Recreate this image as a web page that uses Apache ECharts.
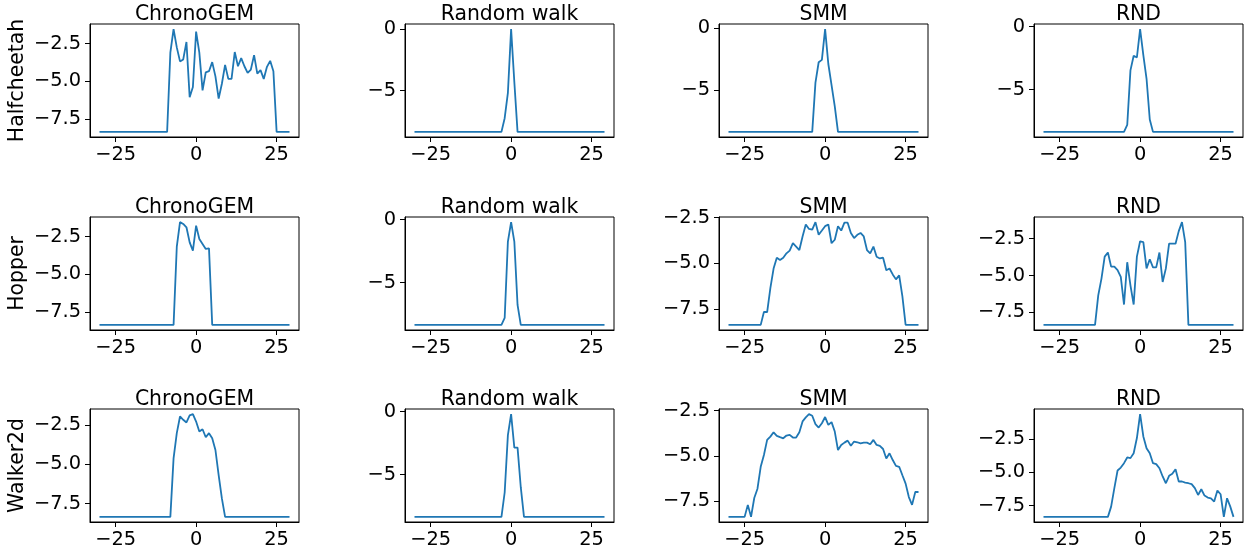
<!DOCTYPE html>
<html><head><meta charset="utf-8">
<script src="https://cdn.jsdelivr.net/npm/echarts@6/dist/echarts.min.js"></script>
<style>html,body{margin:0;padding:0;background:#fff}#c{width:1248px;height:550px}</style>
</head><body><div id="c"></div>
<script>
// ---------------- data ----------------
const xValues = [-30,-29,-28,-27,-26,-25,-24,-23,-22,-21,-20,-19,-18,-17,-16,-15,-14,-13,-12,-11,-10,-9,-8,-7,-6,-5,-4,-3,-2,-1,0,1,2,3,4,5,6,7,8,9,10,11,12,13,14,15,16,17,18,19,20,21,22,23,24,25,26,27,28,29];
const envNames = ['Halfcheetah', 'Hopper', 'Walker2d'];
const methodNames = ['ChronoGEM', 'Random walk', 'SMM', 'RND'];
const xTicks = [-25, 0, 25];

const halfcheetahChronoGEM = [-8.35,-8.35,-8.35,-8.35,-8.35,-8.35,-8.35,-8.35,-8.35,-8.35,-8.35,-8.35,-8.35,-8.35,-8.35,-8.35,-8.35,-8.35,-8.35,-8.35,-8.35,-8.35,
  -3.1,-1.54,-2.75,-3.68,-3.55,-2.39,-6.05,-5.38,-1.70,-3.10,-5.60,-4.40,-4.33,-3.73,-4.67,-6.14,-5.16,-3.91,-4.84,-4.84,-3.06,-4.0,-3.46,-4.0,-4.44,-4.22,-3.26,-4.49,-4.26,-4.84,-4.04,-3.64,-4.33,
  -8.35,-8.35,-8.35,-8.35,-8.35];
const halfcheetahRandomWalk = [-8.35,-8.35,-8.35,-8.35,-8.35,-8.35,-8.35,-8.35,-8.35,-8.35,-8.35,-8.35,-8.35,-8.35,-8.35,-8.35,-8.35,-8.35,-8.35,-8.35,-8.35,-8.35,-8.35,-8.35,-8.35,-8.35,-8.35,-8.35,
  -7.24,-5.19,0,-4.3,
  -8.35,-8.35,-8.35,-8.35,-8.35,-8.35,-8.35,-8.35,-8.35,-8.35,-8.35,-8.35,-8.35,-8.35,-8.35,-8.35,-8.35,-8.35,-8.35,-8.35,-8.35,-8.35,-8.35,-8.35,-8.35,-8.35,-8.35,-8.35];
const halfcheetahSMM = [-8.35,-8.35,-8.35,-8.35,-8.35,-8.35,-8.35,-8.35,-8.35,-8.35,-8.35,-8.35,-8.35,-8.35,-8.35,-8.35,-8.35,-8.35,-8.35,-8.35,-8.35,-8.35,-8.35,-8.35,-8.35,-8.35,-8.35,
  -4.4,-2.76,-2.57,-0.1,-2.9,-4.6,-6.3,
  -8.35,-8.35,-8.35,-8.35,-8.35,-8.35,-8.35,-8.35,-8.35,-8.35,-8.35,-8.35,-8.35,-8.35,-8.35,-8.35,-8.35,-8.35,-8.35,-8.35,-8.35,-8.35,-8.35,-8.35,-8.35,-8.35];
const halfcheetahRND = [-8.35,-8.35,-8.35,-8.35,-8.35,-8.35,-8.35,-8.35,-8.35,-8.35,-8.35,-8.35,-8.35,-8.35,-8.35,-8.35,-8.35,-8.35,-8.35,-8.35,-8.35,-8.35,-8.35,-8.35,-8.35,-8.35,
  -7.8,-3.47,-2.31,-2.45,-0.2,-2.26,-4.14,-7.37,
  -8.35,-8.35,-8.35,-8.35,-8.35,-8.35,-8.35,-8.35,-8.35,-8.35,-8.35,-8.35,-8.35,-8.35,-8.35,-8.35,-8.35,-8.35,-8.35,-8.35,-8.35,-8.35,-8.35,-8.35,-8.35,-8.35];

const hopperChronoGEM = [-8.35,-8.35,-8.35,-8.35,-8.35,-8.35,-8.35,-8.35,-8.35,-8.35,-8.35,-8.35,-8.35,-8.35,-8.35,-8.35,-8.35,-8.35,-8.35,-8.35,-8.35,-8.35,-8.35,-8.35,
  -3.17,-1.54,-1.66,-1.88,-2.88,-3.43,-1.77,-2.66,-2.99,-3.32,-3.28,
  -8.35,-8.35,-8.35,-8.35,-8.35,-8.35,-8.35,-8.35,-8.35,-8.35,-8.35,-8.35,-8.35,-8.35,-8.35,-8.35,-8.35,-8.35,-8.35,-8.35,-8.35,-8.35,-8.35,-8.35,-8.35];
const hopperRandomWalk = [-8.35,-8.35,-8.35,-8.35,-8.35,-8.35,-8.35,-8.35,-8.35,-8.35,-8.35,-8.35,-8.35,-8.35,-8.35,-8.35,-8.35,-8.35,-8.35,-8.35,-8.35,-8.35,-8.35,-8.35,-8.35,-8.35,-8.35,-8.35,
  -7.8,-1.74,-0.2,-1.74,-6.77,
  -8.35,-8.35,-8.35,-8.35,-8.35,-8.35,-8.35,-8.35,-8.35,-8.35,-8.35,-8.35,-8.35,-8.35,-8.35,-8.35,-8.35,-8.35,-8.35,-8.35,-8.35,-8.35,-8.35,-8.35,-8.35,-8.35,-8.35];
const hopperSMM = [-8.35,-8.35,-8.35,-8.35,-8.35,-8.35,-8.35,-8.35,-8.35,-8.35,-8.35,
  -7.65,-7.65,-6.35,-5.28,-4.69,-4.81,-4.69,-4.45,-4.3,-3.9,
  -4.08,-4.27,-3.53,-2.88,-3.12,-3.16,-2.75,-3.44,-3.21,-2.97,
  -2.88,-3.9,-3.71,-2.97,-3.21,-2.78,-2.78,-3.34,-3.62,-3.44,
  -3.34,-3.53,-4.27,-4.45,-4.08,-4.64,-4.73,-4.69,-5.37,-5.28,
  -5.6,-5.87,-5.65,-6.8,
  -8.35,-8.35,-8.35,-8.35,-8.35];
const hopperRND = [-8.35,-8.35,-8.35,-8.35,-8.35,-8.35,-8.35,-8.35,-8.35,-8.35,-8.35,-8.35,-8.35,-8.35,-8.35,-8.35,-8.35,
  -6.35,-5.21,-3.72,-3.44,-4.40,-4.40,-4.63,-5.09,-6.97,-4.10,-5.67,-6.97,-3.72,-2.68,-2.73,-4.52,-3.90,-4.45,-4.45,-3.44,-5.44,-4.52,-2.84,-2.84,-2.84,-1.99,-1.38,-2.73,
  -8.35,-8.35,-8.35,-8.35,-8.35,-8.35,-8.35,-8.35,-8.35,-8.35,-8.35,-8.35,-8.35,-8.35,-8.35];

const walker2dChronoGEM = [-8.35,-8.35,-8.35,-8.35,-8.35,-8.35,-8.35,-8.35,-8.35,-8.35,-8.35,-8.35,-8.35,-8.35,-8.35,-8.35,-8.35,-8.35,-8.35,-8.35,-8.35,-8.35,-8.35,
  -4.63,-3.03,-1.97,-2.18,-2.35,-1.90,-1.82,-2.29,-2.93,-2.78,-3.29,-3.03,-3.35,-4.1,-5.7,-7.18,
  -8.35,-8.35,-8.35,-8.35,-8.35,-8.35,-8.35,-8.35,-8.35,-8.35,-8.35,-8.35,-8.35,-8.35,-8.35,-8.35,-8.35,-8.35,-8.35,-8.35,-8.35];
const walker2dRandomWalk = [-8.35,-8.35,-8.35,-8.35,-8.35,-8.35,-8.35,-8.35,-8.35,-8.35,-8.35,-8.35,-8.35,-8.35,-8.35,-8.35,-8.35,-8.35,-8.35,-8.35,-8.35,-8.35,-8.35,-8.35,-8.35,-8.35,-8.35,-8.35,
  -6.42,-1.87,-0.21,-2.86,-2.86,-6.0,
  -8.35,-8.35,-8.35,-8.35,-8.35,-8.35,-8.35,-8.35,-8.35,-8.35,-8.35,-8.35,-8.35,-8.35,-8.35,-8.35,-8.35,-8.35,-8.35,-8.35,-8.35,-8.35,-8.35,-8.35,-8.35,-8.35];
const walker2dSMM = [-8.35,-8.35,-8.35,-8.35,-8.35,-8.35,
  -7.69,-8.35,-7.31,-6.8,-5.59,-4.94,-4.11,-3.93,-3.69,-3.89,-3.96,-4.02,-3.87,-3.83,-3.98,-3.98,-3.69,-3.09,-2.87,-2.69,-2.78,-3.24,-3.43,-3.19,
  -2.85,-3.28,-3.13,-3.65,-4.67,-4.39,-4.26,-4.15,-4.43,-4.20,-4.24,-4.30,-4.26,-4.26,-4.35,-4.11,-4.39,-4.44,-4.61,-5.13,-4.85,-5.22,-5.54,-5.59,-6.06,-6.52,-7.26,-7.69,-6.98,-6.98];
const walker2dRND = [-8.35,-8.35,-8.35,-8.35,-8.35,-8.35,-8.35,-8.35,-8.35,-8.35,-8.35,-8.35,-8.35,-8.35,-8.35,-8.35,-8.35,-8.35,-8.35,-8.35,-8.35,
  -7.58,-6.19,-4.86,-4.64,-4.31,-3.88,-3.93,-3.56,-2.42,-0.62,-2.30,-3.18,-3.56,-4.31,-4.38,-4.69,-5.31,-5.82,-5.26,-5.11,-4.76,-5.69,-5.69,-5.77,-5.82,-5.89,-6.19,-6.70,-6.27,-6.75,-6.90,-6.95,-7.20,-6.37,-6.65,-8.35,-6.95,-7.58,-8.35];

const yTicksHalfcheetah = [[-7.5, -5, -2.5], [-5, 0], [-5, 0], [-5, 0]];
const yTicksHopper = [[-7.5, -5, -2.5], [-5, 0], [-7.5, -5, -2.5], [-7.5, -5, -2.5]];
const yTicksWalker2d = [[-7.5, -5, -2.5], [-5, 0], [-7.5, -5, -2.5], [-7.5, -5, -2.5]];

// ---------------- layout ----------------
const panels = [
  [halfcheetahChronoGEM, halfcheetahRandomWalk, halfcheetahSMM, halfcheetahRND],
  [hopperChronoGEM, hopperRandomWalk, hopperSMM, hopperRND],
  [walker2dChronoGEM, walker2dRandomWalk, walker2dSMM, walker2dRND]
];
const yTicksAll = [yTicksHalfcheetah, yTicksHopper, yTicksWalker2d];
const colLeft = [90, 405, 719, 1034];
const colWidth = 209;
const rowTop = [24, 217, 409];
const rowHeight = 113;
const FONT = 'DejaVu Sans';
const FS = 19.4;
const FS_TITLE = 20.4;

function fmt(v, ticks) {
  const allInt = ticks.every(t => Number.isInteger(t));
  const s = allInt ? String(Math.round(v)) : v.toFixed(1);
  return s.replace('-', '\u2212');
}
function padRange(arr) {
  const mn = Math.min(...arr), mx = Math.max(...arr);
  const d = (mx - mn) * 0.05;
  return [mn - d, mx + d];
}

const grids = [], xAxes = [], yAxes = [], series = [], graphics = [];
const xr = padRange(xValues);
let idx = 0;
for (let r = 0; r < 3; r++) {
  for (let c = 0; c < 4; c++) {
    const vals = panels[r][c];
    const yr = padRange(vals);
    const yt = yTicksAll[r][c];
    grids.push({left: colLeft[c], top: rowTop[r], width: colWidth, height: rowHeight,
      show: true, borderColor: '#000', borderWidth: 1, backgroundColor: 'transparent', containLabel: false});
    xAxes.push({type: 'value', gridIndex: idx, min: xr[0], max: xr[1],
      axisLine: {show: true, onZero: false, lineStyle: {color: '#000', width: 1}},
      axisTick: {show: true, length: 5, lineStyle: {color: '#000', width: 1}, customValues: xTicks},
      axisLabel: {show: true, margin: 8, color: '#000', fontFamily: FONT, fontSize: FS,
        customValues: xTicks, formatter: v => fmt(v, xTicks)},
      splitLine: {show: false}});
    yAxes.push({type: 'value', gridIndex: idx, min: yr[0], max: yr[1],
      axisLine: {show: true, onZero: false, lineStyle: {color: '#000', width: 1}},
      axisTick: {show: true, length: 5, lineStyle: {color: '#000', width: 1}, customValues: yt},
      axisLabel: {show: true, margin: 9, color: '#000', fontFamily: FONT, fontSize: FS,
        customValues: yt, formatter: v => fmt(v, yt)},
      splitLine: {show: false}});
    series.push({type: 'line', xAxisIndex: idx, yAxisIndex: idx,
      data: xValues.map((x, i) => [x, vals[i]]),
      showSymbol: false, symbol: 'none', smooth: false,
      lineStyle: {color: '#1f77b4', width: 1.8}, itemStyle: {color: '#1f77b4'}, z: 3});
    graphics.push({type: 'text', x: colLeft[c] + colWidth / 2, y: rowTop[r] - 9,
      style: {text: methodNames[c], fill: '#000', font: FS_TITLE + 'px "' + FONT + '"', textAlign: 'center', textVerticalAlign: 'middle'}});
    idx++;
  }
  graphics.push({type: 'text', x: 18, y: rowTop[r] + rowHeight / 2, rotation: Math.PI / 2,
    style: {text: envNames[r], fill: '#000', font: FS_TITLE + 'px "' + FONT + '"', textAlign: 'center', textVerticalAlign: 'middle'}});
}

const chart = echarts.init(document.getElementById('c'), null, {renderer: 'canvas'});
chart.setOption({
  animation: false,
  backgroundColor: '#fff',
  grid: grids, xAxis: xAxes, yAxis: yAxes, series: series,
  graphic: graphics
});
</script>
</body></html>
